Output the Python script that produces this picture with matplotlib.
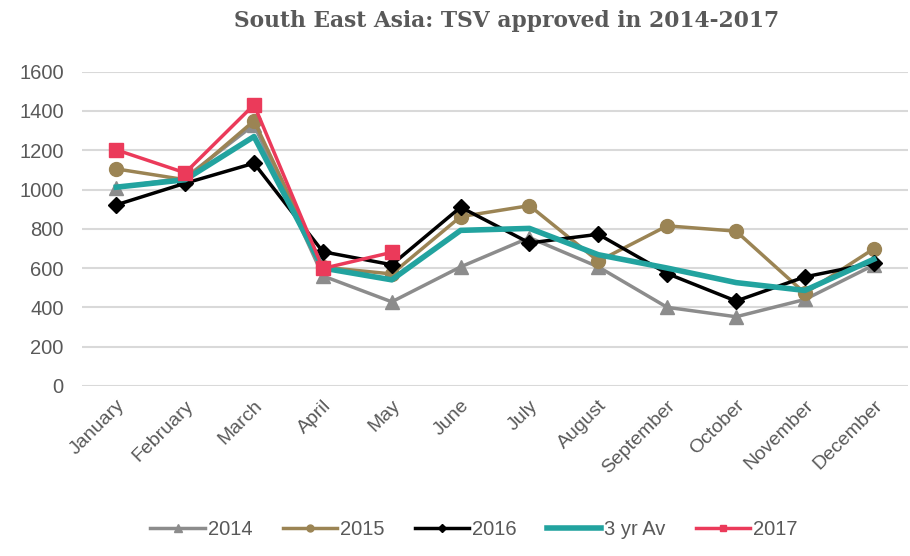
import matplotlib.pyplot as plt
from matplotlib.lines import Line2D

months = ["January", "February", "March", "April", "May", "June", "July",
          "August", "September", "October", "November", "December"]
y2014 = [1010, 1060, 1330, 560, 428, 606, 755, 606, 400, 352, 440, 615]
y2015 = [1105, 1050, 1350, 605, 570, 862, 918, 635, 815, 788, 472, 698]
y2016 = [922, 1032, 1134, 683, 617, 910, 728, 772, 572, 432, 555, 626]
avg3 = [1012, 1050, 1270, 600, 540, 792, 802, 668, 600, 526, 486, 645]
y2017 = [1202, 1085, 1432, 598, 680]

c14 = "#8c8c8c"
c15 = "#9b8454"
c16 = "#000000"
cav = "#22a39f"
c17 = "#eb3a5a"
txt = "#595959"

plt.rcParams['font.family'] = ['Liberation Sans', 'DejaVu Sans']

fig = plt.figure(figsize=(9.1, 5.56), dpi=100)
ax = fig.add_axes([0.09, 0.306, 0.908, 0.565])

x = list(range(len(months)))
ax.plot(x, y2014, color=c14, lw=2.5, marker='^', ms=10, zorder=3)
ax.plot(x, y2015, color=c15, lw=2.5, marker='o', ms=10, zorder=4)
ax.plot(x, y2016, color=c16, lw=2.5, marker='D', ms=8, zorder=5)
ax.plot(x, avg3, color=cav, lw=4, zorder=6)
ax.plot(x[:len(y2017)], y2017, color=c17, lw=2.5, marker='s', ms=10, zorder=7)

ax.set_xlim(-0.5, 11.5)
ax.set_ylim(0, 1600)
ax.set_yticks(range(0, 1601, 200))
ax.set_xticks(x)
ax.set_xticklabels(months, rotation=45, ha='right', rotation_mode='anchor')
ax.tick_params(length=0, labelsize=14.5, colors=txt)
ax.tick_params(axis='y', pad=13)
ax.tick_params(axis='x', pad=8, labelsize=14)
ax.grid(axis='y', color='#d9d9d9', lw=1.5)
ax.set_axisbelow(True)
for s in ax.spines.values():
    s.set_visible(False)

fig.text(0.557, 0.962, "South East Asia: TSV approved in 2014-2017",
         ha='center', va='center', fontsize=15.7, fontweight='bold',
         family='DejaVu Serif', color=txt)

handles = [
    Line2D([], [], color=c14, lw=2.5, marker='^', ms=6),
    Line2D([], [], color=c15, lw=2.5, marker='o', ms=5),
    Line2D([], [], color=c16, lw=2.5, marker='D', ms=4),
    Line2D([], [], color=cav, lw=4),
    Line2D([], [], color=c17, lw=2.5, marker='s', ms=5),
]
fig.legend(handles, ["2014", "2015", "2016", "3 yr Av", "2017"],
           loc='center', bbox_to_anchor=(0.521, 0.047), ncol=5, frameon=False,
           fontsize=14.5, labelcolor=txt, handlelength=2.7, handletextpad=0.15,
           columnspacing=1.5)

fig.savefig("out.png", dpi=100)
